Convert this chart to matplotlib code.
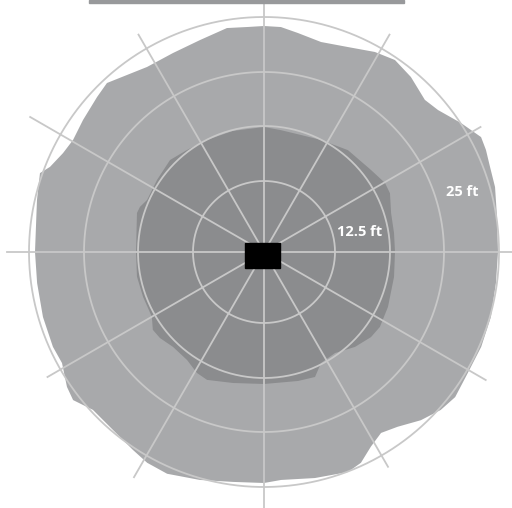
import numpy as np
import matplotlib.pyplot as plt
from matplotlib.patches import Rectangle

# outer coverage (angle in deg, radius)
outer_ang = [0, 8.5, 15.7, 20.6, 24.7, 27.9, 33.2, 39.2, 43.4, 50, 55.7, 61, 67.7, 74.8, 81.2, 85.7,
             90, 94, 99.4, 106.8, 114.6, 122.3, 127.7, 132.9, 137.1, 143.9, 149.6, 153.8, 158.3, 160.6,
             167.1, 180, 187.8, 196.4, 204.2, 208.8, 214.4, 217.8, 222.7, 229.7, 236.5, 241, 246.4,
             254.3, 262.3, 270, 274.3, 282.7, 290.9, 294.7, 298.8, 302.9, 307.4, 313, 318.2, 322.8,
             329.3, 336.4, 344, 352.4]
outer_r = [234, 235.6, 240, 241.5, 244.3, 245.6, 235.5, 224.6, 221.4, 228.5, 232.4, 228.7, 221.5, 217.6,
           221.6, 225.6, 226, 225.6, 227, 221.4, 218.8, 218.9, 223.8, 230.7, 227.8, 224, 221.4, 224,
           230.3, 237.5, 232.9, 229, 229, 230.4, 231.4, 230.5, 238.8, 241.6, 232.8, 233.4, 237.4, 241,
           242, 236.8, 232, 231, 228.6, 231.7, 235.5, 232, 222, 215.5, 220, 230, 237, 240, 237, 237,
           236, 234]

# inner coverage
inner_ang = [0, 8.3, 17, 25, 29.7, 37.5, 50.5, 63, 72.5, 82, 90, 104.4, 117, 127, 135.6, 146, 156,
             160, 162.9, 180, 191, 200.4, 210, 215, 219.6, 226.2, 234.5, 241, 246, 256.7, 270, 284.8,
             292.2, 297.2, 305.1, 313.8, 321.5, 327.1, 336.1, 349.1]
inner_r = [131, 131.4, 132.9, 139, 139.3, 134.8, 132, 125.7, 122.7, 123, 125, 125, 125.7, 127.8, 131.5,
           129, 128, 132, 132.9, 128, 129.4, 129, 129.5, 135.7, 135, 131.5, 132.6, 138.3, 140, 134.6,
           132, 133.4, 135, 124.8, 123.5, 131.5, 136.7, 138, 135.6, 132.4]

rings = [71, 126, 180, 235]
spoke_ang = [0, 30, 60, 90, 120, 150, 180, 210, 240, 270, 300, 330]
spoke_len = [260, 250, 251, 249, 251, 270, 257, 250, 260, 260, 248, 256]

labels = ['12.5 ft', '25 ft']
label_ang = [11.5, 16.8]
label_r = [98, 207]

light = '#a8a9ab'
dark = '#8b8c8e'
grid = '#c8c8c8'

fig = plt.figure(figsize=(5.12, 5.08), dpi=100)
cx, cy = 264, 508 - 252
R = 256
ax = fig.add_axes([(cx - R) / 512, (cy - R) / 508, 2 * R / 512, 2 * R / 508], projection='polar')
ax.set_ylim(0, R)
ax.axis('off')

ax.fill(np.deg2rad(outer_ang), outer_r, color=light, lw=0, zorder=1)
ax.fill(np.deg2rad(inner_ang), inner_r, color=dark, lw=0, zorder=2)

t = np.linspace(0, 2 * np.pi, 400)
for r in rings:
    ax.plot(t, np.full_like(t, r), color=grid, lw=1.3, zorder=3)
for a, l in zip(spoke_ang, spoke_len):
    ax.plot([np.deg2rad(a)] * 2, [0, l], color=grid, lw=1.3, zorder=3, clip_on=False)

for s, a, r in zip(labels, label_ang, label_r):
    ax.text(np.deg2rad(a), r, s, color='white', fontsize=10.5, fontweight='bold',
            family='Open Sans', ha='center', va='center', zorder=4)

# black box at centre + bar on top
ov = fig.add_axes(ax.get_position(), frameon=False)
ov.set_xlim(-R, R)
ov.set_ylim(-R, R)
ov.axis('off')
ov.add_patch(Rectangle((-19, -16), 35, 25, color='black', zorder=5))

fig.patches.append(Rectangle((89 / 512, 1 - 3 / 508), (404 - 89) / 512, 3 / 508,
                             transform=fig.transFigure, color='#98999b', figure=fig))

plt.savefig('out.png', dpi=100)
